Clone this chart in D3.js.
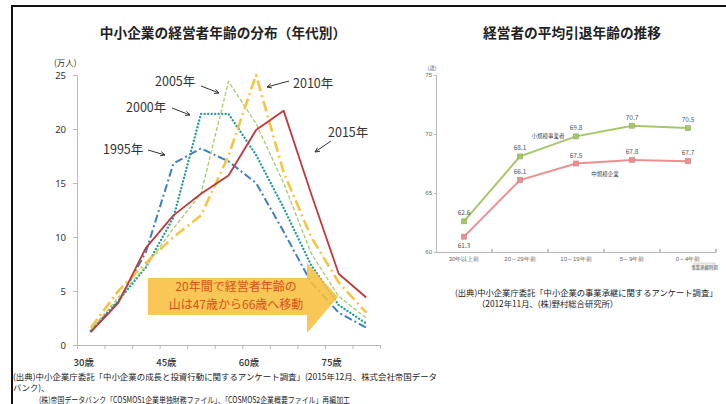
<!DOCTYPE html>
<html>
<head>
<meta charset="utf-8">
<script src="https://cdn.jsdelivr.net/npm/d3@7"></script>
<style>
body { margin: 0; background: #fff; }
svg { display: block; font-family: "Noto Sans CJK JP", "Noto Sans", sans-serif; }
.axis path, .axis line { stroke: #b8b8b8; }
</style>
</head>
<body>
<svg id="chart" width="726" height="404"></svg>
<script>
// left chart: managers by age (10k people), one point per 5-year age bin
const ages = [32, 37, 42, 47, 52, 57, 62, 67, 72, 77, 82]
const ageLabels = [30, 45, 60, 75]
const leftTicks = [0, 5, 10, 15, 20, 25]
const seriesNames = ["1995年", "2000年", "2005年", "2010年", "2015年"]
const v1995 = [1.3, 4.0, 8.6, 16.8, 18.2, 17.0, 15.0, 10.5, 5.8, 3.0, 1.6]
const v2000 = [1.3, 4.1, 7.2, 11.8, 21.4, 21.4, 17.6, 12.7, 7.4, 3.7, 2.0]
const v2005 = [1.4, 4.4, 7.3, 10.8, 14.0, 24.4, 20.5, 15.0, 8.5, 4.5, 2.5]
const v2010 = [1.6, 5.0, 7.6, 10.0, 12.0, 17.5, 25.0, 16.0, 10.0, 5.8, 3.0]
const v2015 = [1.2, 3.9, 9.0, 12.0, 14.0, 15.7, 19.9, 21.7, 14.0, 6.6, 4.4]

// right chart: average retirement age
const periods = ["30年以上前", "20～29年前", "10～19年前", "5～9年前", "0～4年前"]
const rightTicks = [60, 65, 70, 75]
const smallBiz = [62.6, 68.1, 69.8, 70.7, 70.5]
const midBiz = [61.3, 66.1, 67.5, 67.8, 67.7]

const svg = d3.select("#chart")

// frame
svg.append("path")
    .attr("d", "M12,404 V6 H726")
    .attr("fill", "none")
    .attr("stroke", "#111")
    .attr("stroke-width", 2)

function drawLeft() {
    const x = d3.scaleLinear().domain([29.5, 84.5]).range([77, 380])
    const y = d3.scaleLinear().domain([0, 25]).range([345, 75])
    const g = svg.append("g")

    g.append("text")
        .attr("x", 223).attr("y", 38)
        .attr("text-anchor", "middle")
        .attr("font-size", 13.7).attr("font-weight", "bold")
        .attr("fill", "#222")
        .text("中小企業の経営者年齢の分布（年代別）")

    g.append("text")
        .attr("x", 54).attr("y", 66)
        .attr("font-size", 8.5).attr("fill", "#333")
        .text("(万人)")

    g.append("g").attr("class", "axis")
        .attr("transform", "translate(77,0)")
        .call(d3.axisLeft(y).tickValues(leftTicks).tickSize(4).tickPadding(7))
        .call(a => a.selectAll("text").attr("font-size", 9.5).attr("fill", "#333").attr("font-family", "Noto Sans"))

    g.append("g").attr("class", "axis")
        .attr("transform", "translate(0,345)")
        .call(d3.axisBottom(x).tickValues(d3.range(29.5, 85, 5)).tickSize(4).tickFormat(""))

    g.selectAll(".age")
        .data(ageLabels)
        .join("text")
        .attr("x", d => x(d) + 4).attr("y", 366)
        .attr("text-anchor", "middle")
        .attr("font-size", 9.5).attr("font-weight", 500).attr("fill", "#333")
        .text(d => d + "歳")

    const styles = [
        { color: "#3d80c2", width: 2, dash: "8,3,2,3" },
        { color: "#249a95", width: 2.3, dash: "0.1,3.4", cap: "round" },
        { color: "#a6ca6c", width: 1.3, dash: "4,2" },
        { color: "#f6c445", width: 2.6, dash: "11,4,2,4" },
        { color: "#c0393c", width: 1.8, dash: null }
    ]
    const allSeries = [v1995, v2000, v2005, v2010, v2015]
    const line = d3.line().x((d, i) => x(ages[i])).y(d => y(d))

    g.selectAll(".series")
        .data(allSeries)
        .join("path")
        .attr("d", line)
        .attr("fill", "none")
        .attr("stroke", (d, i) => styles[i].color)
        .attr("stroke-width", (d, i) => styles[i].width)
        .attr("stroke-dasharray", (d, i) => styles[i].dash)
        .attr("stroke-linecap", (d, i) => styles[i].cap || "butt")
        .attr("stroke-linejoin", "round")

    // series labels with little arrows
    const labels = [
        { t: seriesNames[0], x: 103, y: 154, a: [148, 150, 165, 155] },
        { t: seriesNames[1], x: 126, y: 112, a: [172, 108, 190, 115] },
        { t: seriesNames[2], x: 155, y: 86, a: [201, 86, 219, 93] },
        { t: seriesNames[3], x: 293, y: 88, a: [289, 81, 267, 87] },
        { t: seriesNames[4], x: 328, y: 137, a: [331, 141, 315, 152] }
    ]
    g.selectAll(".lab")
        .data(labels)
        .join("text")
        .attr("x", d => d.x).attr("y", d => d.y)
        .attr("font-size", 12.5).attr("fill", "#333")
        .text(d => d.t)

    g.selectAll(".arr")
        .data(labels)
        .join("path")
        .attr("d", d => {
            const [x1, y1, x2, y2] = d.a
            const ang = Math.atan2(y2 - y1, x2 - x1)
            const h = 5
            const p1 = [x2 - h * Math.cos(ang - 0.45), y2 - h * Math.sin(ang - 0.45)]
            const p2 = [x2 - h * Math.cos(ang + 0.45), y2 - h * Math.sin(ang + 0.45)]
            return "M" + x1 + "," + y1 + "L" + x2 + "," + y2 + "M" + p1 + "L" + x2 + "," + y2 + "L" + p2
        })
        .attr("fill", "none")
        .attr("stroke", "#333")
        .attr("stroke-width", 1)

    // orange arrow callout
    g.append("path")
        .attr("d", "M148,278 H307 V263 L338,297 L307,333 V315 H148 Z")
        .attr("fill", "#f7bf3e")
        .attr("fill-opacity", 0.88)

    g.selectAll(".note")
        .data(["20年間で経営者年齢の", "山は47歳から66歳へ移動"])
        .join("text")
        .attr("x", 236).attr("y", (d, i) => 291 + i * 17.5)
        .attr("text-anchor", "middle")
        .attr("font-size", 12).attr("fill", "#d8521c")
        .text(d => d)

    const foot = [
        { t: "(出典)中小企業庁委託「中小企業の成長と投資行動に関するアンケート調査」(2015年12月、株式会社帝国データ", x: 13, y: 380, w: 424 },
        { t: "バンク)、", x: 13, y: 391, w: null },
        { t: "(株)帝国データバンク「COSMOS1企業単独財務ファイル」、「COSMOS2企業概要ファイル」再編加工", x: 39, y: 403, w: 311 }
    ]
    g.selectAll(".foot")
        .data(foot)
        .join("text")
        .attr("x", d => d.x).attr("y", d => d.y)
        .attr("font-size", 8.3).attr("fill", "#222")
        .attr("textLength", d => d.w)
        .attr("lengthAdjust", "spacingAndGlyphs")
        .text(d => d.t)
}

function drawRight() {
    const x = d3.scaleBand().domain(periods).range([436, 716])
    const y = d3.scaleLinear().domain([60, 75]).range([252, 75])
    const cx = d => x(d) + x.bandwidth() / 2
    const g = svg.append("g")

    g.append("text")
        .attr("x", 572).attr("y", 38)
        .attr("text-anchor", "middle")
        .attr("font-size", 13.7).attr("font-weight", "bold")
        .attr("fill", "#222")
        .text("経営者の平均引退年齢の推移")

    g.append("text")
        .attr("x", 432).attr("y", 70)
        .attr("text-anchor", "middle")
        .attr("font-size", 5.5).attr("fill", "#666")
        .text("(歳)")

    g.append("g").attr("class", "axis")
        .attr("transform", "translate(436,0)")
        .call(d3.axisLeft(y).tickValues(rightTicks).tickSize(2).tickPadding(2))
        .call(a => a.selectAll("text").attr("font-size", 6).attr("fill", "#666"))
        .call(a => a.selectAll("path, line").attr("stroke", "#888"))

    g.append("g").attr("class", "axis")
        .attr("transform", "translate(0,252)")
        .call(d3.axisBottom(x).tickSize(0).tickPadding(5))
        .call(a => a.selectAll("text").attr("font-size", 6).attr("fill", "#666"))
        .call(a => a.select("path").attr("stroke", "#888"))

    g.selectAll(".tk")
        .data(periods.slice(1).concat([null]))
        .join("line")
        .attr("x1", d => d ? x(d) : 716).attr("x2", d => d ? x(d) : 716)
        .attr("y1", 249).attr("y2", 252)
        .attr("stroke", "#888")

    g.append("rect")
        .attr("x", 694).attr("y", 263).attr("width", 21).attr("height", 7)
        .attr("fill", "#eee").attr("stroke", "#bbb").attr("stroke-width", 0.5)
    g.append("text")
        .attr("x", 704.5).attr("y", 268.5)
        .attr("text-anchor", "middle")
        .attr("font-size", 4.5).attr("fill", "#666")
        .text("事業承継時期")

    const series = [
        { v: smallBiz, color: "#a7c66c", label: "小規模事業者", lx: 548, ly: 138, below: [] },
        { v: midBiz, color: "#ec8f90", label: "中規模企業", lx: 605, ly: 176, below: [0] }
    ]
    const line = d3.line().x((d, i) => cx(periods[i])).y(d => y(d))

    series.forEach(s => {
        g.append("path")
            .attr("d", line(s.v))
            .attr("fill", "none")
            .attr("stroke", s.color)
            .attr("stroke-width", 2)

        g.selectAll(null)
            .data(s.v)
            .join("rect")
            .attr("x", (d, i) => cx(periods[i]) - 2.5)
            .attr("y", d => y(d) - 2.5)
            .attr("width", 5).attr("height", 5)
            .attr("fill", s.color)
            .attr("stroke", d3.color(s.color).darker(0.4))
            .attr("stroke-width", 0.6)

        g.selectAll(null)
            .data(s.v)
            .join("text")
            .attr("x", (d, i) => cx(periods[i]))
            .attr("y", (d, i) => s.below.includes(i) ? y(d) + 11 : y(d) - 6)
            .attr("text-anchor", "middle")
            .attr("font-size", 6.5).attr("fill", "#555")
            .text(d => d.toFixed(1))

        g.append("text")
            .attr("x", s.lx).attr("y", s.ly)
            .attr("text-anchor", "middle")
            .attr("font-size", 5.5).attr("fill", "#444")
            .text(s.label)
    })

    g.append("text")
        .attr("x", 455).attr("y", 296)
        .attr("font-size", 8.3).attr("fill", "#222")
        .text("(出典)中小企業庁委託「中小企業の事業承継に関するアンケート調査」")
    g.append("text")
        .attr("x", 477).attr("y", 307)
        .attr("font-size", 8.3).attr("fill", "#222")
        .text("（2012年11月、(株)野村総合研究所）")
}

drawLeft()
drawRight()
</script>
</body>
</html>
